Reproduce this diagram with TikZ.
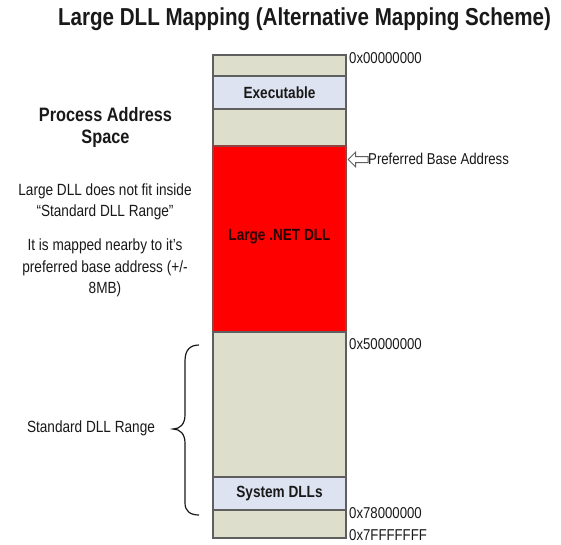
\documentclass[tikz,border=0pt]{standalone}
\usepackage{fontspec}
\setmainfont{Liberation Sans}[FakeStretch=0.84]
\usetikzlibrary{shapes.arrows}
\definecolor{segGray}{RGB}{221,222,204}
\definecolor{segBlue}{RGB}{221,227,240}
\definecolor{segLine}{RGB}{95,95,95}
\definecolor{txt}{RGB}{25,25,25}
\begin{document}
\begin{tikzpicture}[x=1pt,y=-1pt,
  seg/.style={draw=segLine, line width=1.1pt, fill=segGray, anchor=north west,
    minimum width=133pt, inner sep=0pt, outer sep=0pt, font=\bfseries\fontsize{16.2}{18}\selectfont, text=txt},
  addr/.style={anchor=west, inner sep=0pt, font=\fontsize{15.7}{18}\selectfont, text=txt},
  note/.style={align=center, inner sep=0pt, font=\fontsize{16.2}{21.5}\selectfont, text=txt}]
\useasboundingbox (0,0) rectangle (561,544);
\fill[white] (0,0) rectangle (561,544);
% title
\node[inner sep=0pt, font=\bfseries\fontsize{24.5}{28}\selectfont, text=txt] (title) at (304.5,19) {Large DLL Mapping (Alternative Mapping Scheme)};
% column
\node[seg, minimum height=21pt] (s1) at (213,55) {};
\node[seg, fill=segBlue, minimum height=33pt] (exe) at (213,76) {Executable};
\node[seg, minimum height=37pt] (s2) at (213,109) {};
\node[seg, fill=red, draw=segLine!70!red, minimum height=186pt] (dll) at (213,146) {};
\node[inner sep=0pt, font=\bfseries\fontsize{16.2}{18}\selectfont, text=black!85!red] (dlltext) at (279.5,237) {Large .NET DLL};
\node[seg, minimum height=145pt] (s3) at (213,332) {};
\node[seg, fill=segBlue, minimum height=33pt] (sys) at (213,477) {System DLLs};
\node[seg, minimum height=28pt] (s4) at (213,510) {};
% addresses
\node[addr] (a0) at (349,58) {0x00000000};
\node[addr] (a5) at (349,344) {0x50000000};
\node[addr] (a78) at (349,513) {0x78000000};
\node[addr] (a7f) at (349,535) {0x7FFFFFFF};
% preferred base address arrow
\node[single arrow, shape border rotate=180, draw=segLine, fill=white, line width=1pt,
  minimum height=20pt, minimum width=14pt, single arrow head extend=4.5pt, inner sep=2.5pt,
  anchor=tip] (arr) at (347.5,159.5) {};
\node[addr] (pba) at (368,159) {Preferred Base Address};
% left notes
\node[note, font=\bfseries\fontsize{19.4}{22}\selectfont] (pas) at (105.5,127) {Process Address\\Space};
\node[note] (n1) at (105,202) {Large DLL does not fit inside\\``Standard DLL Range''};
\node[note] (n2) at (105,268) {It is mapped nearby to it's\\preferred base address (+/-\\8MB)};
\node[note] (sdr) at (91,428) {Standard DLL Range};
% brace
\draw[line width=1.2pt, txt] (199,345) .. controls (190,345) and (185,350) .. (185,361)
  -- (185,415) .. controls (185,424) and (180,429) .. (173,429)
  .. controls (180,429) and (185,434) .. (185,443)
  -- (185,503) .. controls (185,511) and (190,515) .. (199,515);
\end{tikzpicture}
\end{document}
